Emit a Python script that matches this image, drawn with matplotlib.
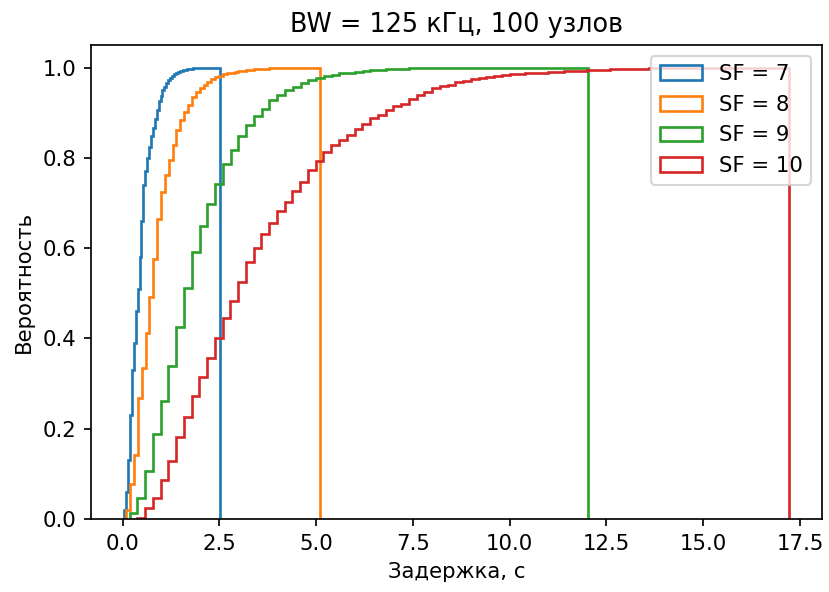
import matplotlib
matplotlib.use("Agg")
import matplotlib.pyplot as plt
import numpy as np

# Bin layout of each histogram: first edge, last edge, number of bins
bins_sf7 = (0.04, 2.51, 50)
bins_sf8 = (0.09, 5.09, 50)
bins_sf9 = (0.18, 12.02, 59)
bins_sf10 = (0.38, 17.21, 84)

# Cumulative probability in each bin
cdf_sf7 = [
    0.02, 0.06, 0.13, 0.23, 0.33, 0.39, 0.46, 0.51, 0.58, 0.66,
    0.74, 0.77, 0.80, 0.825, 0.848, 0.866, 0.886, 0.905, 0.925, 0.938,
    0.950, 0.958, 0.966, 0.972, 0.977, 0.981, 0.985, 0.988, 0.990, 0.992,
    0.993, 0.994, 0.995, 0.996, 0.997, 0.997, 0.998, 0.998, 0.998, 0.999,
    0.999, 0.999, 0.999, 0.999, 0.999, 0.999, 1.0, 1.0, 1.0, 1.0,
]
cdf_sf8 = [
    0.019, 0.077, 0.142, 0.268, 0.334, 0.411, 0.492, 0.576, 0.664, 0.725,
    0.762, 0.795, 0.828, 0.861, 0.883, 0.902, 0.917, 0.935, 0.946, 0.955,
    0.962, 0.969, 0.975, 0.979, 0.982, 0.985, 0.987, 0.989, 0.991, 0.992,
    0.993, 0.994, 0.995, 0.996, 0.996, 0.997, 0.997, 0.998, 0.998, 0.998,
    0.999, 0.999, 0.999, 0.999, 0.999, 0.999, 1.0, 1.0, 1.0, 1.0,
]
cdf_sf9 = [
    0.013, 0.046, 0.107, 0.189, 0.262, 0.340, 0.425, 0.511, 0.592, 0.650,
    0.697, 0.742, 0.787, 0.817, 0.848, 0.872, 0.892, 0.909, 0.928, 0.940,
    0.950, 0.957, 0.965, 0.972, 0.977, 0.981, 0.984, 0.987, 0.989, 0.991,
    0.993, 0.994, 0.995, 0.996, 0.997, 0.997, 0.998, 0.998, 0.998, 0.999,
    0.999, 0.999, 0.999, 0.999, 0.999, 0.999, 0.999, 1.0, 1.0, 1.0,
    1.0, 1.0, 1.0, 1.0, 1.0, 1.0, 1.0, 1.0, 1.0,
]
cdf_sf10 = [
    0.002, 0.024, 0.046, 0.087, 0.129, 0.181, 0.226, 0.273, 0.314, 0.357,
    0.400, 0.445, 0.483, 0.526, 0.570, 0.601, 0.631, 0.656, 0.683, 0.703,
    0.726, 0.747, 0.773, 0.793, 0.813, 0.828, 0.839, 0.850, 0.863, 0.876,
    0.888, 0.896, 0.905, 0.915, 0.920, 0.931, 0.939, 0.946, 0.954, 0.959,
    0.962, 0.967, 0.971, 0.974, 0.977, 0.979, 0.981, 0.983, 0.985, 0.986,
    0.987, 0.988, 0.989, 0.990, 0.991, 0.992, 0.992, 0.993, 0.994, 0.995,
    0.995, 0.996, 0.996, 0.997, 0.997, 0.997, 0.998, 0.998, 0.998, 0.999,
    0.999, 0.999, 0.999, 0.999, 0.999, 0.999, 1.0, 1.0, 1.0, 1.0,
    1.0, 1.0, 1.0, 1.0,
]

labels = ["SF = 7", "SF = 8", "SF = 9", "SF = 10"]
bin_specs = [bins_sf7, bins_sf8, bins_sf9, bins_sf10]
cdfs = [cdf_sf7, cdf_sf8, cdf_sf9, cdf_sf10]

dpi = 153
fig = plt.figure(figsize=(829 / dpi, 592 / dpi), dpi=dpi)
ax = fig.add_axes([91 / 829, 73 / 592, 731 / 829, 474 / 592])

for (start, stop, n), cdf, label in zip(bin_specs, cdfs, labels):
    edges = np.linspace(start, stop, n + 1)
    centers = (edges[:-1] + edges[1:]) / 2
    # per-bin probability mass, summed back up by hist(cumulative=True)
    mass = np.diff(np.asarray(cdf), prepend=0.0)
    ax.hist(centers, bins=edges, weights=mass, cumulative=True,
            histtype="step", label=label, linewidth=1.25)

ax.set_title("BW = 125 кГц, 100 узлов")
ax.set_xlabel("Задержка, с")
ax.set_ylabel("Вероятность")
ax.legend(loc="upper right")

fig.savefig("out.png", dpi=dpi)
